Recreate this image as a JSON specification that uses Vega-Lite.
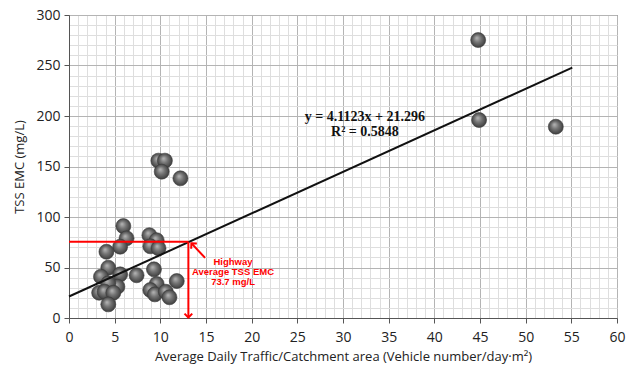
{
  "$schema": "https://vega.github.io/schema/vega-lite/v6.json",
  "width": 548,
  "height": 303,
  "autosize": "none",
  "padding": {"left": 69, "top": 15, "right": 13, "bottom": 51},
  "background": "white",
  "config": {
    "view": {"stroke": "#555", "strokeWidth": 1},
    "font": "Open Sans"
  },
  "layer": [
    {
      "data": {"values": [
        {"adt": 9.78, "tss": 155.8}, {"adt": 10.5, "tss": 155.8}, {"adt": 10.15, "tss": 144.9}, {"adt": 12.2, "tss": 138.3},
        {"adt": 5.95, "tss": 91}, {"adt": 6.3, "tss": 78.9}, {"adt": 8.8, "tss": 82}, {"adt": 9.6, "tss": 77},
        {"adt": 8.9, "tss": 71}, {"adt": 9.8, "tss": 69}, {"adt": 5.6, "tss": 70.6}, {"adt": 4.1, "tss": 65.6},
        {"adt": 4.3, "tss": 49.8}, {"adt": 5.6, "tss": 43.2}, {"adt": 3.5, "tss": 40.9}, {"adt": 7.4, "tss": 42.3},
        {"adt": 9.3, "tss": 48.2}, {"adt": 11.8, "tss": 36.6}, {"adt": 9.6, "tss": 33.7}, {"adt": 5.3, "tss": 31},
        {"adt": 4.3, "tss": 34.3}, {"adt": 3.3, "tss": 25}, {"adt": 3.9, "tss": 26}, {"adt": 4.85, "tss": 25},
        {"adt": 8.9, "tss": 27.7}, {"adt": 9.4, "tss": 23.4}, {"adt": 10.6, "tss": 26}, {"adt": 11.0, "tss": 20.5},
        {"adt": 4.3, "tss": 13.5},
        {"adt": 44.8, "tss": 275.2}, {"adt": 44.9, "tss": 196}, {"adt": 53.3, "tss": 189.4}
      ]},
      "mark": {
        "type": "point",
        "shape": "circle",
        "filled": true,
        "size": 225,
        "opacity": 1,
        "stroke": "#3a3a3a",
        "strokeWidth": 0.6,
        "fill": {
          "gradient": "radial",
          "x1": 0.4, "y1": 0.35, "r1": 0,
          "x2": 0.5, "y2": 0.5, "r2": 0.55,
          "stops": [
            {"offset": 0, "color": "#b8b8b8"},
            {"offset": 0.45, "color": "#747474"},
            {"offset": 1, "color": "#363636"}
          ]
        }
      },
      "encoding": {
        "x": {
          "field": "adt", "type": "quantitative",
          "scale": {"domain": [0, 60], "nice": false, "zero": false},
          "axis": {
            "title": "Average Daily Traffic/Catchment area (Vehicle number/day·m²)",
            "titleFont": "Open Sans", "titleFontSize": 13, "titleFontWeight": "normal", "titleColor": "#222",
            "titlePadding": 6,
            "tickCount": 200,
            "format": "d",
            "values": [0,1,2,3,4,5,6,7,8,9,10,11,12,13,14,15,16,17,18,19,20,21,22,23,24,25,26,27,28,29,30,31,32,33,34,35,36,37,38,39,40,41,42,43,44,45,46,47,48,49,50,51,52,53,54,55,56,57,58,59,60],
            "labelExpr": "datum.value % 5 === 0 ? datum.label : ''",
            "labelFont": "Open Sans", "labelFontSize": 14, "labelColor": "#222", "labelPadding": 7,
            "labelOverlap": false,
            "labelFlush": false,
            "grid": true,
            "gridColor": {"condition": {"test": "datum.value % 5 === 0", "value": "#b4b4b4"}, "value": "#dedede"},
            "gridWidth": 1,
            "ticks": true,
            "tickSize": 5,
            "tickColor": "#555",
            "tickOpacity": {"condition": {"test": "datum.value % 5 === 0", "value": 1}, "value": 0},
            "domainColor": "#555"
          }
        },
        "y": {
          "field": "tss", "type": "quantitative",
          "scale": {"domain": [0, 300], "nice": false},
          "axis": {
            "title": "TSS EMC (mg/L)",
            "titleFont": "Open Sans", "titleFontSize": 13, "titleFontWeight": "normal", "titleColor": "#222",
            "titlePadding": 9,
            "tickCount": 200,
            "format": "d",
            "values": [0,10,20,30,40,50,60,70,80,90,100,110,120,130,140,150,160,170,180,190,200,210,220,230,240,250,260,270,280,290,300],
            "labelExpr": "datum.value % 50 === 0 ? datum.label : ''",
            "labelFont": "Open Sans", "labelFontSize": 14, "labelColor": "#222", "labelPadding": 4,
            "labelOverlap": false,
            "labelFlush": false,
            "grid": true,
            "gridColor": {"condition": {"test": "datum.value % 50 === 0", "value": "#b4b4b4"}, "value": "#dedede"},
            "gridWidth": 1,
            "ticks": true,
            "tickSize": 5,
            "tickColor": "#555",
            "tickOpacity": {"condition": {"test": "datum.value % 50 === 0", "value": 1}, "value": 0},
            "domainColor": "#555"
          }
        }
      }
    },
    {
      "data": {"values": [{"adt": 0, "tss": 21.296}, {"adt": 55.1, "tss": 247.9}]},
      "mark": {"type": "line", "color": "#111", "strokeWidth": 2},
      "encoding": {
        "x": {"field": "adt", "type": "quantitative"},
        "y": {"field": "tss", "type": "quantitative"}
      }
    },
    {
      "data": {"values": [
        {"x1": 0, "x2": 13.07, "y1": 75.5, "y2": 75.5},
        {"x1": 13.07, "x2": 13.07, "y1": 75.5, "y2": 0.5},
        {"x1": 13.4, "x2": 14.9, "y1": 74.0, "y2": 59.5}
      ]},
      "mark": {"type": "rule", "color": "#ff0000", "strokeWidth": 2},
      "encoding": {
        "x": {"field": "x1", "type": "quantitative"},
        "x2": {"field": "x2"},
        "y": {"field": "y1", "type": "quantitative"},
        "y2": {"field": "y2"}
      }
    },
    {
      "data": {"values": [
        {"x": 13.07, "y": 0.5, "ang": 0},
        {"x": 13.4, "y": 74.0, "ang": 137}
      ]},
      "mark": {"type": "point", "shape": "M-1,-1L0,0L1,-1", "filled": false, "stroke": "#ff0000", "strokeWidth": 2, "size": 60, "opacity": 1},
      "encoding": {
        "x": {"field": "x", "type": "quantitative"},
        "y": {"field": "y", "type": "quantitative"},
        "angle": {"field": "ang", "type": "quantitative", "scale": null}
      }
    },
    {
      "data": {"values": [
        {"x": 17.96, "y": 55.6, "t": "Highway"},
        {"x": 17.96, "y": 45.4, "t": "Average TSS EMC"},
        {"x": 17.96, "y": 35.2, "t": "73.7 mg/L"}
      ]},
      "mark": {"type": "text", "color": "#ff0000", "font": "Liberation Sans", "fontSize": 9.5, "fontWeight": "bold", "align": "center", "baseline": "middle"},
      "encoding": {
        "x": {"field": "x", "type": "quantitative"},
        "y": {"field": "y", "type": "quantitative"},
        "text": {"field": "t"}
      }
    },
    {
      "data": {"values": [
        {"x": 32.4, "y": 199, "t": "y = 4.1123x + 21.296"},
        {"x": 32.4, "y": 184, "t": "R² = 0.5848"}
      ]},
      "mark": {"type": "text", "color": "#111", "font": "Liberation Serif", "fontSize": 14, "fontWeight": "bold", "align": "center", "baseline": "middle"},
      "encoding": {
        "x": {"field": "x", "type": "quantitative"},
        "y": {"field": "y", "type": "quantitative"},
        "text": {"field": "t"}
      }
    }
  ]
}
